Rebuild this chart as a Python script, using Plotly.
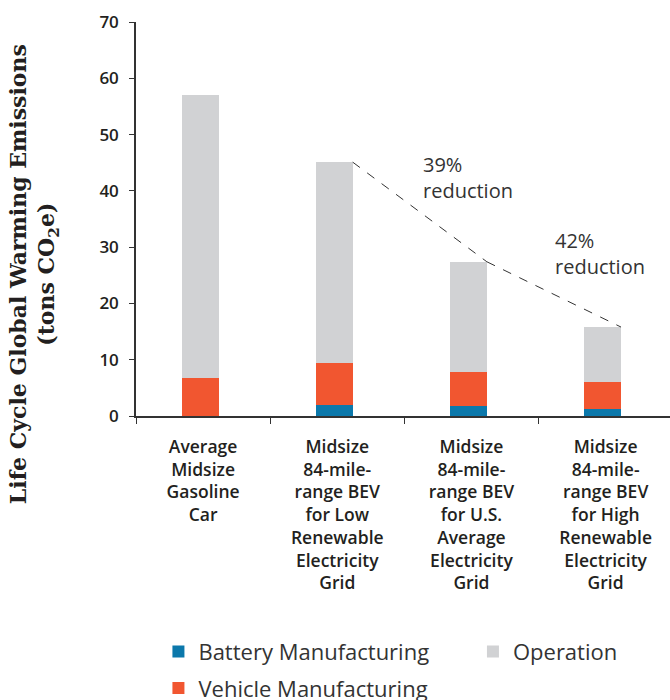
import plotly.graph_objects as go

categories = [
    "Average<br>Midsize<br>Gasoline<br>Car",
    "Midsize<br>84-mile-<br>range BEV<br>for Low<br>Renewable<br>Electricity<br>Grid",
    "Midsize<br>84-mile-<br>range BEV<br>for U.S.<br>Average<br>Electricity<br>Grid",
    "Midsize<br>84-mile-<br>range BEV<br>for High<br>Renewable<br>Electricity<br>Grid",
]
battery = [0.0, 1.95, 1.8, 1.25]
vehicle = [6.75, 7.45, 6.0, 4.75]
operation = [50.25, 35.7, 19.6, 9.8]
reductions = ["39%<br>reduction", "42%<br>reduction"]
yticks = [0, 10, 20, 30, 40, 50, 60, 70]

BLUE = "#0b78ab"
ORANGE = "#f15630"
GRAY = "#d1d2d4"
TXT = "#231f20"
FONT = "Open Sans"

BAR_W = 0.275
BAR_OFF = -0.16

fig = go.Figure()
series = [
    ("Battery Manufacturing", battery, BLUE, "legend"),
    ("Vehicle Manufacturing", vehicle, ORANGE, "legend"),
    ("Operation", operation, GRAY, "legend2"),
]
for name, vals, col, leg in series:
    fig.add_trace(go.Bar(
        x=categories, y=vals, name=name, marker=dict(color=col, line=dict(width=0)),
        width=BAR_W, offset=BAR_OFF, legend=leg, legendgroup=name, hoverinfo="skip",
    ))

totals = [b + v + o for b, v, o in zip(battery, vehicle, operation)]
right_edge = BAR_OFF + BAR_W
for i in range(1, 3):
    fig.add_shape(type="line", xref="x", yref="y",
                  x0=i + right_edge, y0=totals[i], x1=i + 1 + right_edge, y1=totals[i + 1],
                  line=dict(color="#333333", width=1, dash="dash"))

ann_pos = [(1.625, 47.5), (2.605, 33.9)]
for txt, (ax, ay) in zip(reductions, ann_pos):
    fig.add_annotation(x=ax, y=ay, xref="x", yref="y", text=txt, showarrow=False,
                       xanchor="left", yanchor="top", align="left",
                       font=dict(family=FONT, size=20, color="#333333"))

fig.add_annotation(
    text="Life Cycle Global Warming Emissions<br>(tons CO<sub>2</sub>e)",
    xref="paper", yref="paper", x=-0.191, y=0.36, xanchor="center", yanchor="middle",
    textangle=-90, showarrow=False,
    font=dict(family="DejaVu Serif", size=22, color=TXT, weight="bold"),
)

leg_font = dict(family=FONT, size=22, color="#333333")
fig.update_layout(
    width=670, height=700,
    margin=dict(l=136, r=0, t=22, b=284),
    barmode="stack",
    plot_bgcolor="white", paper_bgcolor="white",
    font=dict(family=FONT, color=TXT),
    showlegend=True,
    legend=dict(orientation="v", x=0.042, y=0.099, xref="paper", yref="container",
                xanchor="left", yanchor="top",
                font=leg_font, tracegroupgap=5, itemclick=False, itemdoubleclick=False),
    legend2=dict(orientation="v", x=0.631, y=0.099, xref="paper", yref="container",
                 xanchor="left", yanchor="top",
                 font=leg_font, itemclick=False, itemdoubleclick=False),
    bargap=0,
)
fig.update_xaxes(
    type="category", range=[-0.5, 3.48], tickson="boundaries", automargin=False,
    ticks="outside", ticklen=6, tickcolor="#333333", tickwidth=1.2,
    showline=True, linecolor="#333333", linewidth=1.5, showgrid=False,
    ticklabelstandoff=14,
    tickfont=dict(family=FONT, size=17.5, color=TXT, weight=600),
)
fig.update_yaxes(
    range=[0, 70], tickvals=yticks, ticks="outside", ticklen=5, tickcolor="#333333",
    automargin=False, ticklabelstandoff=7,
    showline=True, linecolor="#333333", linewidth=1.5, showgrid=False, zeroline=False,
    tickfont=dict(family=FONT, size=17, color=TXT, weight=600),
)
fig.write_html("out.html", config={"displayModeBar": False},
               post_script="document.body.style.margin='0px';")
